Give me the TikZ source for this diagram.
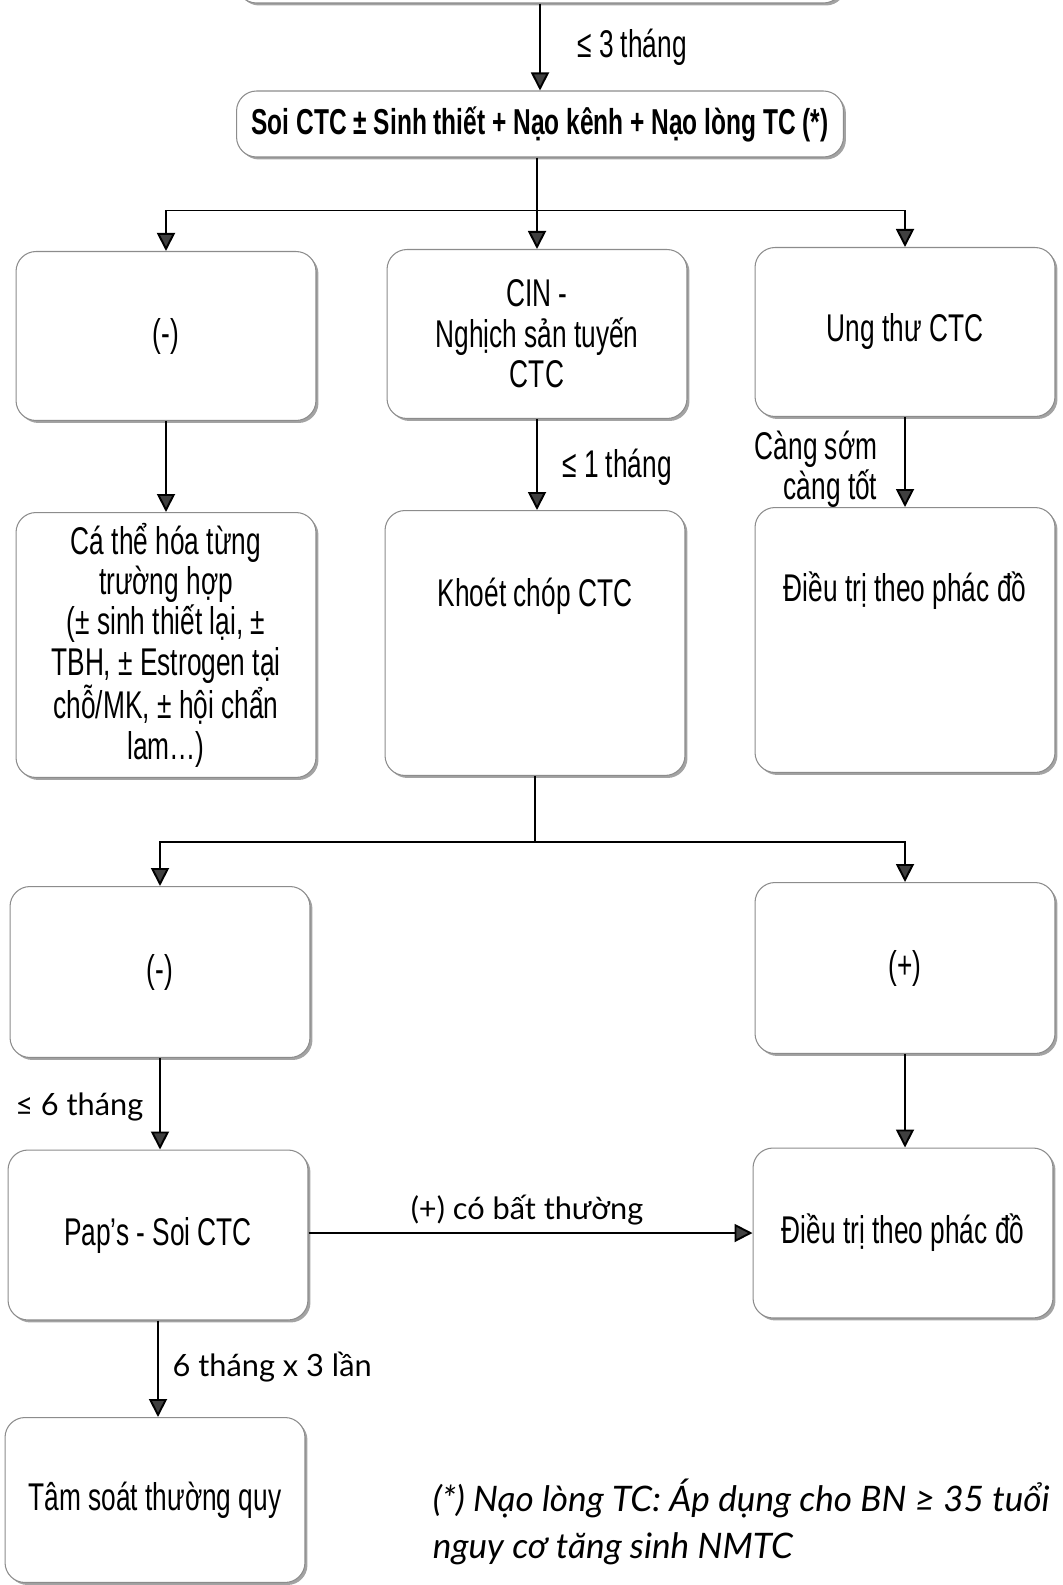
\documentclass[tikz,border=0pt]{standalone}
\usepackage{fontspec}
\setmainfont{Liberation Sans}[FakeStretch=0.68]
\newfontfamily\labelfont{Lato}
\usetikzlibrary{arrows.meta,shadows}

\begin{document}
\begin{tikzpicture}[x=0.02cm, y=-0.02cm,
  box/.style={rectangle, rounded corners=0.4cm, draw=black!45, line width=0.6pt, fill=white,
              drop shadow={shadow xshift=0.05cm, shadow yshift=-0.05cm, fill=black!60, opacity=0.6},
              minimum width=6cm, minimum height=3.38cm, align=center, inner sep=2pt,
              font=\fontsize{22}{23}\selectfont},
  txt/.style={align=center, inner sep=1pt, font=\fontsize{22}{23}\selectfont},
  lbl/.style={align=center, inner sep=1pt, font=\labelfont\fontsize{17.5}{21}\selectfont},
  note/.style={align=left, inner sep=0pt, font=\labelfont\itshape\fontsize{20}{27}\selectfont},
  arr/.style={-{Triangle[length=0.36cm, width=0.36cm, fill=black!75]}},
  line width=1.1pt]
\useasboundingbox (0,0) rectangle (1062,1585);

\node[box, minimum width=12.14cm, minimum height=1.32cm] (top) at (540,-30) {};
\node[box, minimum width=12.14cm, minimum height=1.32cm,
      font=\bfseries\fontsize{20.5}{22}\selectfont] (soi) at (540,124)
      {Soi CTC ± Sinh thiết + Nạo kênh + Nạo lòng TC (*)};

\node[box] (am1) at (166,336) {(-)};
\node[box] (cin) at (537,334) {CIN -\\Nghịch sản tuyến\\CTC};
\node[box] (ung) at (905,332) {Ung thư CTC};

\node[box, minimum height=5.3cm] (cathe) at (166,645)
      {Cá thể hóa từng\\trường hợp\\(± sinh thiết lại, ±\\TBH, ± Estrogen tại\\chỗ/MK, ± hội chẩn\\lam…)};
\node[box, minimum height=5.3cm] (khoet) at (535,643) {};
\node[txt] (khoet-t) at (535,596) {Khoét chóp CTC};
\node[box, minimum height=5.3cm] (dtri1) at (905,640) {};
\node[txt] (dtri1-t) at (905,591) {Điều trị theo phác đồ};

\node[box, minimum height=3.42cm] (am2) at (160,972) {(-)};
\node[box, minimum height=3.42cm] (duong) at (905,968) {(+)};

\node[box, minimum height=3.4cm] (pap) at (158,1235) {Pap’s - Soi CTC};
\node[box, minimum height=3.4cm] (dtri2) at (903,1233) {Điều trị theo phác đồ};

\node[box, minimum height=3.3cm] (tam) at (155,1500) {Tâm soát thường quy};

\node[note, anchor=west] (ghichu) at (432,1522)
      {(*) Nạo lòng TC: Áp dụng cho BN ≥ 35 tuổi\\nguy cơ tăng sinh NMTC};

\draw[arr] (top.south -| soi.north) -- (soi.north);
\node[txt] (l3) at (632,47) {≤ 3 tháng};

\draw (soi.south -| cin.north) -- ++(0,53) coordinate (s1);
\draw[arr] (s1) -| (am1.north);
\draw[arr] (s1) -- (cin.north);
\draw[arr] (s1) -| (ung.north);

\draw[arr] (am1.south) -- (am1.south |- cathe.north);
\draw[arr] (cin.south) -- (cin.south |- khoet.north);
\node[txt] (l1) at (617,467) {≤ 1 tháng};
\draw[arr] (ung.south) -- (ung.south |- dtri1.north);
\node[txt, align=right, anchor=east] (lsom) at (880,469) {Càng sớm\\càng tốt};

\draw (khoet.south) -- ++(0,66) coordinate (s2);
\draw[arr] (s2) -| (am2.north);
\draw[arr] (s2) -| (duong.north);

\draw[arr] (am2.south) -- (am2.south |- pap.north);
\node[lbl, anchor=east] (l6) at (146,1107) {≤ 6 tháng};
\draw[arr] (duong.south) -- (duong.south |- dtri2.north);

\draw[arr] (pap.east |- dtri2.west) -- (dtri2.west);
\node[lbl] (lbt) at (527,1210) {(+) có bất thường};

\draw[arr] (pap.south) -- (pap.south |- tam.north);
\node[lbl, anchor=west] (l63) at (170,1367) {6 tháng x 3 lần};

\end{tikzpicture}
\end{document}
